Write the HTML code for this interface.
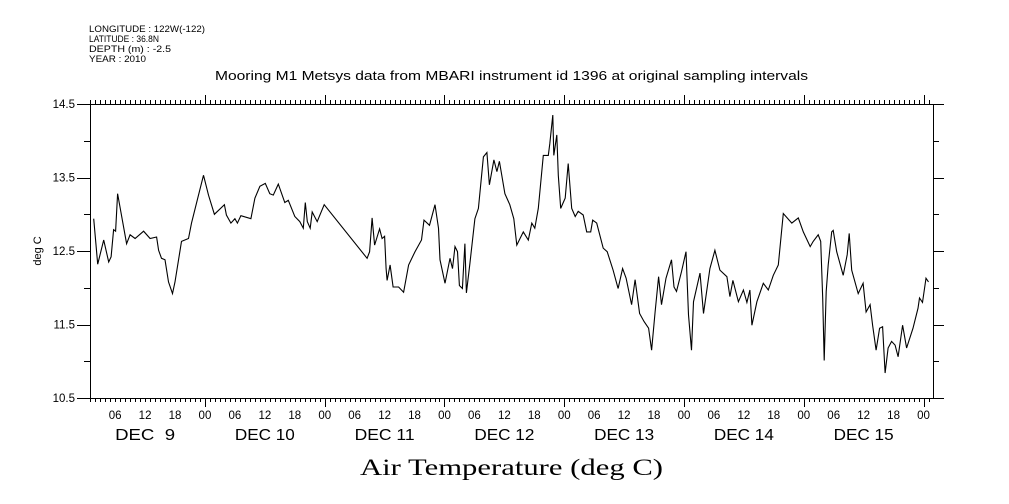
<!DOCTYPE html>
<html><head><meta charset="utf-8"><style>
html,body{margin:0;padding:0;background:#fff}
svg{display:block}
text{font-family:"Liberation Sans",sans-serif;fill:#000}
</style></head><body>
<svg id="chart" width="1009" height="504" viewBox="0 0 1009 504">
<g font-size="9">
<text x="89" y="32" textLength="116" lengthAdjust="spacingAndGlyphs">LONGITUDE : 122W(-122)</text>
<text x="89" y="42" textLength="70" lengthAdjust="spacingAndGlyphs">LATITUDE : 36.8N</text>
<text x="89" y="52" textLength="82" lengthAdjust="spacingAndGlyphs">DEPTH (m) : -2.5</text>
<text x="89" y="62" textLength="57" lengthAdjust="spacingAndGlyphs">YEAR : 2010</text>
</g>
<text x="215" y="80" font-size="13" textLength="593" lengthAdjust="spacingAndGlyphs">Mooring M1 Metsys data from MBARI instrument id 1396 at original sampling intervals</text>
<text x="360" y="475" font-size="23" textLength="303" lengthAdjust="spacingAndGlyphs" style="font-family:'Liberation Serif',serif">Air Temperature (deg C)</text>
<text transform="translate(41,251) rotate(-90)" font-size="11" text-anchor="middle">deg C</text>
<g id="axes"></g>
<g id="series"></g>
</svg>
<script>
const hours=[1.7,2.5,3.7,4.7,5.2,5.7,6.1,6.5,8.3,9,10,11.7,13,14.3,14.7,15.3,16,16.7,17.5,18,19.3,20.7,21.3,22.7,23.7,24.7,25.9,27.9,28.3,29.2,30,30.5,31.2,33.2,34,35,36.1,37,37.7,38.7,40,40.7,42,43,43.7,44.1,44.5,45.1,45.5,46.5,47.9,56.5,57,57.5,58,59,59.5,60,60.3,60.5,61.1,61.7,62.8,63.8,64.8,66.1,67.4,67.9,69,70.1,70.8,71.1,72.1,73.1,73.6,74.1,74.6,75,75.6,76.1,76.4,77.1,78.1,78.8,79.8,80.5,81,81.9,82.5,83,84.1,85.1,85.9,86.5,87.8,88.8,89.5,90.1,90.8,91.8,92.8,93.1,93.7,93.9,94.5,94.8,95.3,96.2,96.8,97.5,98.2,98.8,99.8,100.5,101.3,101.7,102.5,103.8,104.6,105.8,106.8,107.7,108.4,109.5,110.2,111.1,112,112.9,113.5,114.2,114.9,115.5,116.4,117.5,118,118.5,119.5,120.4,120.9,121.5,121.9,123.2,123.9,125.2,126.2,127.2,128.6,129.2,129.8,130.9,131.9,132.6,133.2,133.6,134.6,135.9,136.9,137.9,138.9,139.9,141.6,142.9,143.9,145.3,145.9,146.9,147.4,147.8,148.1,148.5,148.9,149.6,149.9,150.6,151.9,152.7,153.1,153.6,154.9,155.9,156.5,157.3,157.8,158.5,159.2,159.8,160.3,160.9,161.6,162.3,162.9,163.8,164.6,165.9,166.9,167.2,167.8,168.5,169];
const temps=[12.94,12.32,12.65,12.35,12.42,12.79,12.77,13.28,12.6,12.72,12.67,12.77,12.67,12.69,12.51,12.4,12.38,12.08,11.92,12.08,12.63,12.67,12.88,13.26,13.53,13.26,13.0,13.13,12.99,12.88,12.94,12.88,12.98,12.94,13.22,13.38,13.42,13.28,13.26,13.41,13.16,13.19,12.97,12.9,12.81,13.16,12.9,12.81,13.03,12.9,13.13,12.4,12.49,12.95,12.58,12.8,12.67,12.7,12.26,12.1,12.31,12.01,12.01,11.94,12.31,12.49,12.65,12.92,12.85,13.13,12.81,12.38,12.06,12.4,12.26,12.56,12.49,12.03,11.99,12.6,11.93,12.33,12.94,13.08,13.78,13.84,13.4,13.74,13.58,13.72,13.28,13.13,12.94,12.58,12.76,12.65,12.88,12.81,13.08,13.8,13.8,13.96,14.35,13.8,14.08,13.53,13.08,13.22,13.69,13.08,12.97,13.04,12.99,12.76,12.76,12.92,12.88,12.54,12.49,12.24,11.99,12.26,12.13,11.77,12.11,11.65,11.54,11.45,11.15,11.67,12.15,11.77,12.13,12.38,12.01,11.95,12.22,12.49,11.63,11.15,11.81,12.2,11.65,12.26,12.51,12.24,12.15,11.88,12.1,11.81,11.97,11.8,11.97,11.49,11.81,12.06,11.97,12.17,12.31,13.01,12.88,12.95,12.76,12.56,12.63,12.72,12.63,11.86,11.01,11.95,12.31,12.76,12.78,12.49,12.17,12.45,12.74,12.24,11.92,12.06,11.67,11.77,11.49,11.15,11.45,11.47,10.84,11.18,11.27,11.22,11.06,11.49,11.18,11.45,11.72,11.86,11.8,12.13,12.08];
const yTicks=[10.5,11.5,12.5,13.5,14.5];
const yTickLabels=["10.5","11.5","12.5","13.5","14.5"];
const hourLabels=["06","12","18","00"];
const dayLabels=["DEC  9","DEC 10","DEC 11","DEC 12","DEC 13","DEC 14","DEC 15"];

const NS="http://www.w3.org/2000/svg";
const L=90,R=933,T=104,B=398;
const X0=85.2,PXH=4.99;
function xs(h){return X0+h*PXH;}
function ys(v){return T+(14.5-v)*(B-T)/4;}
const axes=document.getElementById('axes');
function mk(tag,attrs,parent){const e=document.createElementNS(NS,tag);for(const k in attrs)e.setAttribute(k,attrs[k]);parent.appendChild(e);return e;}

const frame=mk('rect',{x:L+.5,y:T+.5,width:R-L,height:B-T,fill:'none',stroke:'#000','stroke-width':1},axes);



let tp='';
const hStart=Math.ceil((L-X0)/PXH), hEnd=Math.floor((R-X0)/PXH);
for(let h=hStart;h<=hEnd;h++){
  const x=Math.round(xs(h))+.5;
  const len=(h%24===0)?9:4;
  tp+=`M${x} ${B}V${B+len}M${x} ${T}V${T-len}`;
}
for(let i=0;i<=8;i++){
  const v=10.5+i*0.5;const y=Math.round(ys(v))+.5;
  const major=(i%2===0);
  tp+=`M${L} ${y}H${L-(major?13:6)}M${R+1} ${y}H${R+(major?11:6)}`;
}
const ticks=mk('path',{d:tp,stroke:'#000','stroke-width':1,fill:'none'},axes);



yTicks.forEach((v,i)=>{
  const t=mk('text',{x:75,y:ys(v)+4,'font-size':11.5,'text-anchor':'end'},axes);
  t.textContent=yTickLabels[i];
  
  
});
for(let h=6;h<=hEnd;h+=6){
  const t=mk('text',{x:xs(h),y:419,'font-size':11.5,'text-anchor':'middle'},axes);
  t.textContent=hourLabels[(h/6-1)%4];
  
  
}
dayLabels.forEach((d,i)=>{
  const t=mk('text',{x:xs(i*24+12)-30,y:440,'font-size':16,textLength:60,lengthAdjust:'spacingAndGlyphs',style:'white-space:pre'},axes);
  t.textContent=d;
  
  
});

let d='';
hours.forEach((h,i)=>{d+=(i?'L':'M')+xs(h).toFixed(1)+' '+ys(temps[i]).toFixed(1);});
const line=mk('path',{d:d,fill:'none',stroke:'#000','stroke-width':1.1},document.getElementById('series'));


</script>
</body></html>
